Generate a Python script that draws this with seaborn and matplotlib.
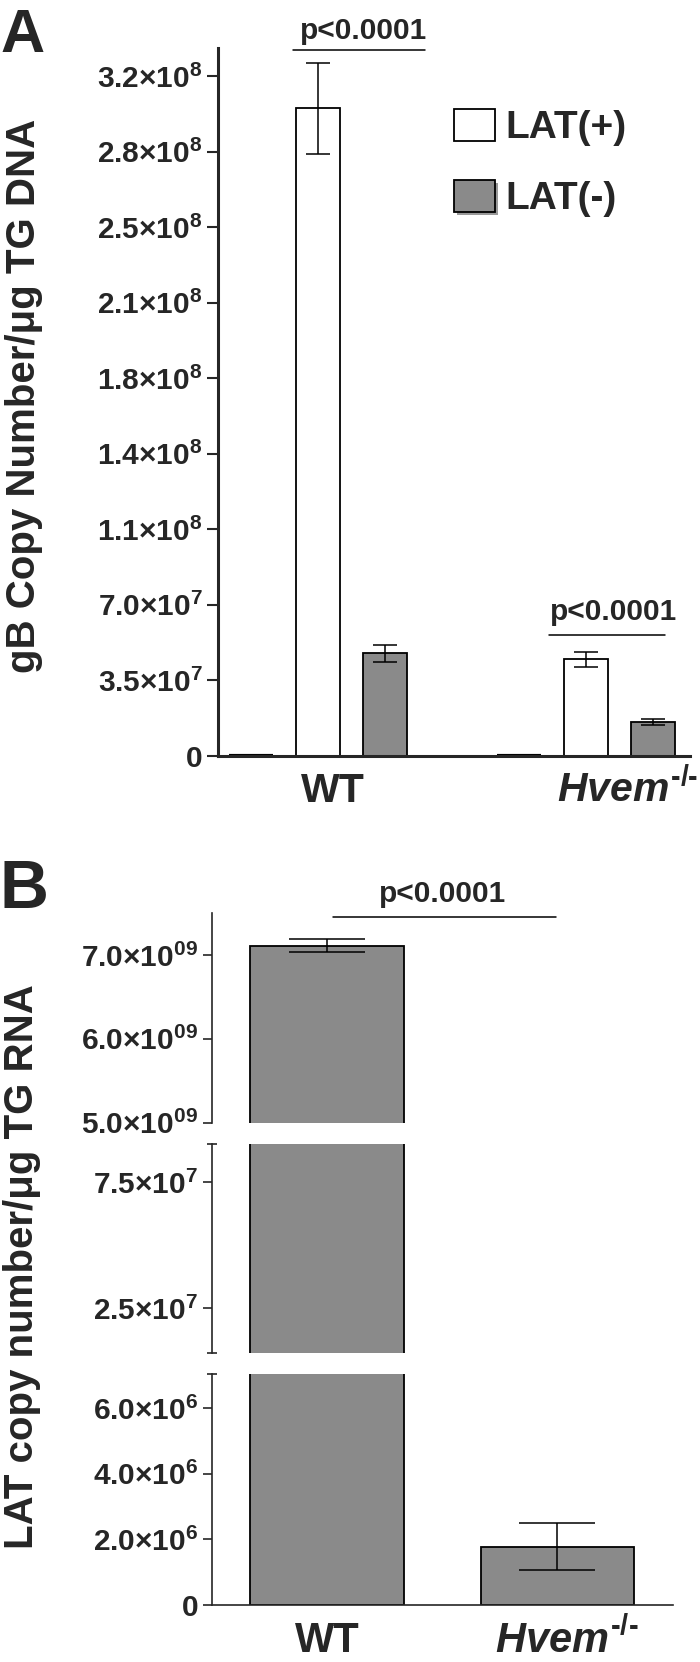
import matplotlib
matplotlib.use("Agg")
import matplotlib.pyplot as plt
import matplotlib.patheffects as pe
import seaborn as sns
import pandas as pd
from matplotlib.patches import Patch
from matplotlib.ticker import FixedLocator
from matplotlib.transforms import ScaledTranslation

# ---- data ----
genotypes = ["WT", "Hvem"]
conditions = ["Mock", "LAT(+)", "LAT(-)"]

# panel A: gB copy number / ug TG DNA
gb_mock = [0, 0]
gb_lat_pos = [3.00e8, 4.48e7]
gb_lat_neg = [4.75e7, 1.55e7]
gb_lat_pos_sem = [2.1e7, 3.5e6]
gb_lat_neg_sem = [3.9e6, 1.4e6]

a_tick_values = [0, 3.5e7, 7.0e7, 1.05e8, 1.4e8, 1.75e8, 2.1e8, 2.45e8, 2.8e8, 3.15e8]
a_tick_text = [("0", None), ("3.5", "7"), ("7.0", "7"), ("1.1", "8"), ("1.4", "8"),
               ("1.8", "8"), ("2.1", "8"), ("2.5", "8"), ("2.8", "8"), ("3.2", "8")]

# panel B: LAT copy number / ug TG RNA (broken axis)
lat_rna = [7.11e9, 1.775e6]
lat_rna_sem = [7.5e7, 7.2e5]

b_top_ticks = [5.0e9, 6.0e9, 7.0e9]
b_top_text = [("5.0", "09"), ("6.0", "09"), ("7.0", "09")]
b_mid_ticks = [2.5e7, 7.5e7]
b_mid_text = [("2.5", "7"), ("7.5", "7")]
b_bot_ticks = [0, 2.0e6, 4.0e6, 6.0e6]
b_bot_text = [("0", None), ("2.0", "6"), ("4.0", "6"), ("6.0", "6")]

p_text = "p<0.0001"
x_labels = ["WT", r"$Hvem^{\text{-/-}}$"]

GRAY = "#8a8a8a"

sns.set_style("ticks")
plt.rcParams["font.family"] = ["Liberation Sans", "DejaVu Sans"]
plt.rcParams["font.weight"] = "bold"
plt.rcParams["mathtext.fontset"] = "custom"
plt.rcParams["mathtext.rm"] = "Liberation Sans:bold"
plt.rcParams["mathtext.bf"] = "Liberation Sans:bold"
plt.rcParams["mathtext.it"] = "Liberation Sans:italic:bold"


def sci(mant, exp):
    if exp is None:
        return mant
    return r"$%s{\times}10^{%s}$" % (mant, exp)


def centers(bars):
    return [b.get_x() + b.get_width() / 2 for b in bars]


fig = plt.figure(figsize=(7, 16.62), dpi=100)

# ================= panel A =================
ax_a = fig.add_axes([0.3114, 0.5453, 0.6743, 0.4258])
df_a = pd.DataFrame({
    "genotype": genotypes * 3,
    "condition": [c for c in conditions for _ in genotypes],
    "copies": gb_mock + gb_lat_pos + gb_lat_neg,
})
sns.barplot(data=df_a, x="genotype", y="copies", hue="condition",
            order=genotypes, hue_order=conditions,
            palette={"Mock": "white", "LAT(+)": "white", "LAT(-)": GRAY},
            saturation=1, edgecolor="black", linewidth=1.3,
            width=0.75, gap=0.343, errorbar=None, legend=False, ax=ax_a)

cont = dict(zip(conditions, ax_a.containers))
for bar in cont["Mock"]:
    bar.set_linewidth(3)
ax_a.errorbar(centers(cont["LAT(+)"]), gb_lat_pos, yerr=gb_lat_pos_sem, fmt="none",
              ecolor="black", elinewidth=1.1, capsize=8.6, capthick=1.1)
ax_a.errorbar(centers(cont["LAT(-)"]), gb_lat_neg, yerr=gb_lat_neg_sem, fmt="none",
              ecolor="black", elinewidth=1.1, capsize=8.6, capthick=1.1)

ax_a.set_xlim(-0.373, 1.388)
ax_a.set_ylim(0, 3.28e8)
ax_a.set_yticks(a_tick_values, [sci(m, e) for m, e in a_tick_text])
ax_a.set_xticks([0, 1], x_labels, va="baseline")
ax_a.set_xlabel("")
ax_a.set_ylabel("gB Copy Number/μg TG DNA", fontsize=29, fontweight="bold", va="center")
ax_a.yaxis.set_label_coords(-0.411, 0.508)
sns.despine(ax=ax_a)
for s in ["left", "bottom"]:
    ax_a.spines[s].set_linewidth(2.2)
ax_a.tick_params(axis="y", labelsize=21.5, length=8, width=1.5, pad=3)
ax_a.tick_params(axis="x", labelsize=29.5, length=0, pad=33)
for lab, dx in zip(ax_a.get_xticklabels(), [11, 30]):
    lab.set_transform(lab.get_transform() + ScaledTranslation(dx / 72, 0, fig.dpi_scale_trans))

# significance brackets (group, left, right, line y, text x, text gap)
for g, xl, xr, yl, xt, gap in [(0, -0.093, 0.40, 3.27e8, 0.17, 8),
                               (1, -0.138, 0.295, 5.6e7, 0.103, 11)]:
    ax_a.plot([g + xl, g + xr], [yl, yl], color="black", lw=1.1, clip_on=False)
    ax_a.annotate(p_text, xy=(g + xt, yl), xytext=(0, gap), textcoords="offset points",
                  ha="center", va="baseline", fontsize=21.5, fontweight="bold",
                  annotation_clip=False)

shadow = [pe.SimplePatchShadow(offset=(2, -2), shadow_rgbFace="#999999", alpha=1), pe.Normal()]
handles = [Patch(facecolor="white", edgecolor="black", linewidth=1.3, label="LAT(+)"),
           Patch(facecolor=GRAY, edgecolor="black", linewidth=1.3, label="LAT(-)",
                 path_effects=shadow)]
ax_a.legend(handles=handles, loc="upper left", bbox_to_anchor=(0.5, 0.914), frameon=False,
            prop={"size": 28, "weight": "bold"}, handlelength=1.05, handleheight=0.9,
            handletextpad=0.26, labelspacing=0.86, borderaxespad=0, borderpad=0)

# ================= panel B =================
ax_top = fig.add_axes([0.3024, 0.32449, 0.6586, 0.12617])
ax_mid = fig.add_axes([0.3024, 0.18574, 0.6586, 0.12575])
ax_bot = fig.add_axes([0.3024, 0.0343, 0.6586, 0.13899])

for ax, lim, ticks, text in [(ax_top, (5.0e9, 7.5e9), b_top_ticks, b_top_text),
                             (ax_mid, (7.1e6, 9.0e7), b_mid_ticks, b_mid_text),
                             (ax_bot, (0, 7.04e6), b_bot_ticks, b_bot_text)]:
    sns.barplot(x=genotypes, y=lat_rna, color=GRAY, saturation=1, edgecolor="black",
                linewidth=1.3, width=0.667, errorbar=None, ax=ax)
    ax.errorbar(centers(ax.patches), lat_rna, yerr=lat_rna_sem, fmt="none",
                ecolor="black", elinewidth=1.1, capsize=27.7, capthick=1.1)
    ax.set_xlim(-0.5, 1.5)
    ax.set_ylim(*lim)
    ax.set_yticks(ticks, [sci(m, e) for m, e in text])
    ax.tick_params(axis="y", labelsize=21.5, length=6.5, width=1.2, pad=3)
    for s in ["left", "bottom"]:
        ax.spines[s].set_linewidth(1.2)
    sns.despine(ax=ax, bottom=ax is not ax_bot)
    if ax is not ax_bot:
        ax.tick_params(axis="x", bottom=False, labelbottom=False)

# break caps on the axis ends
ax_mid.yaxis.set_minor_locator(FixedLocator(list(ax_mid.get_ylim())))
ax_bot.yaxis.set_minor_locator(FixedLocator([ax_bot.get_ylim()[1]]))
for ax in [ax_mid, ax_bot]:
    ax.tick_params(axis="y", which="minor", direction="inout", length=6.5, width=1.2)

ax_bot.set_xticks([0, 1], x_labels, va="baseline")
ax_bot.tick_params(axis="x", labelsize=30, length=0, pad=34)
for lab, dx in zip(ax_bot.get_xticklabels(), [0, 7]):
    lab.set_transform(lab.get_transform() + ScaledTranslation(dx / 72, 0, fig.dpi_scale_trans))

ax_mid.set_ylabel("LAT copy number/μg TG RNA", fontsize=29, fontweight="bold", va="center")
ax_mid.yaxis.set_label_coords(-0.4115, 0.413)

c_b = centers(ax_top.patches)
y_br = 7.454e9
ax_top.plot([c_b[0] + 0.027, c_b[1] - 0.007], [y_br, y_br], color="black", lw=1.1, clip_on=False)
ax_top.annotate(p_text, xy=(sum(c_b) / 2, y_br), xytext=(0, 11), textcoords="offset points",
                ha="center", va="baseline", fontsize=21.5, fontweight="bold",
                annotation_clip=False)

fig.text(0.0, 1 - 8 / 1662, "A", fontsize=44, fontweight="bold", ha="left", va="top")
fig.text(0.0, 1 - 858 / 1662, "B", fontsize=49, fontweight="bold", ha="left", va="top")

fig.savefig("out.png", dpi=100)
